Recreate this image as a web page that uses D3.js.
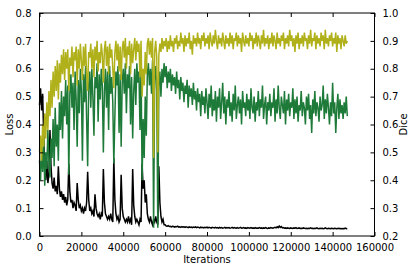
<!DOCTYPE html>
<html>
<head>
<meta charset="utf-8">
<script src="https://cdn.jsdelivr.net/npm/d3@7"></script>
<style>
  body { margin: 0; background: #fff; }
  svg { display: block; }
  text { font-family: "DejaVu Sans", sans-serif; font-size: 10px; fill: #000; }
  .series { fill: none; stroke-width: 1.5; stroke-linejoin: miter; }
</style>
</head>
<body>
<svg id="chart"></svg>
<script>
// one sample every 500 iterations, 0..147000
const iterStep = 500;

// training loss (left axis)
const lossValues = [
  0.47, 0.53, 0.45, 0.51, 0.36, 0.24, 0.20, 0.27, 0.19, 0.22,
  0.38, 0.25, 0.19, 0.17, 0.21, 0.16, 0.18, 0.15, 0.25, 0.17,
  0.14, 0.16, 0.13, 0.15, 0.12, 0.14, 0.11, 0.13, 0.26, 0.16,
  0.12, 0.13, 0.10, 0.12, 0.11, 0.09, 0.19, 0.13, 0.10, 0.11,
  0.09, 0.10, 0.08, 0.10, 0.09, 0.12, 0.23, 0.13, 0.09, 0.10,
  0.08, 0.09, 0.07, 0.15, 0.10, 0.08, 0.07, 0.08, 0.06, 0.08,
  0.07, 0.24, 0.12, 0.08, 0.07, 0.06, 0.07, 0.06, 0.08, 0.06,
  0.05, 0.28, 0.13, 0.08, 0.06, 0.07, 0.05, 0.06, 0.22, 0.10,
  0.07, 0.06, 0.05, 0.06, 0.05, 0.07, 0.05, 0.06, 0.04, 0.24,
  0.11, 0.07, 0.05, 0.06, 0.05, 0.04, 0.06, 0.05, 0.26, 0.17,
  0.20, 0.12, 0.15, 0.08, 0.06, 0.05, 0.07, 0.05, 0.04, 0.06,
  0.05, 0.07, 0.05, 0.04, 0.25, 0.12, 0.07, 0.05, 0.06, 0.04,
  0.040, 0.036, 0.035, 0.037, 0.034, 0.035, 0.033, 0.035, 0.034, 0.032,
  0.034, 0.033, 0.035, 0.032, 0.033, 0.031, 0.034, 0.032, 0.033, 0.031,
  0.033, 0.032, 0.030, 0.033, 0.031, 0.032, 0.030, 0.032, 0.031, 0.033,
  0.030, 0.032, 0.031, 0.029, 0.032, 0.030, 0.031, 0.029, 0.031, 0.030,
  0.032, 0.029, 0.031, 0.030, 0.028, 0.031, 0.030, 0.029, 0.031, 0.029,
  0.030, 0.028, 0.031, 0.029, 0.030, 0.028, 0.029, 0.031, 0.028, 0.030,
  0.029, 0.030, 0.028, 0.029, 0.031, 0.028, 0.030, 0.029, 0.028, 0.030,
  0.028, 0.029, 0.031, 0.028, 0.029, 0.030, 0.028, 0.029, 0.027, 0.030,
  0.029, 0.028, 0.030, 0.028, 0.029, 0.027, 0.030, 0.028, 0.029, 0.028,
  0.030, 0.028, 0.029, 0.027, 0.029, 0.028, 0.030, 0.028, 0.027, 0.029,
  0.028, 0.030, 0.029, 0.028, 0.030, 0.031, 0.029, 0.033, 0.030, 0.036,
  0.031, 0.034, 0.029, 0.030, 0.028, 0.029, 0.027, 0.029, 0.028, 0.027,
  0.029, 0.028, 0.027, 0.029, 0.028, 0.030, 0.027, 0.028, 0.029, 0.027,
  0.028, 0.027, 0.029, 0.028, 0.027, 0.028, 0.026, 0.028, 0.027, 0.029,
  0.027, 0.028, 0.026, 0.028, 0.027, 0.029, 0.027, 0.026, 0.028, 0.027,
  0.028, 0.026, 0.027, 0.029, 0.027, 0.026, 0.028, 0.027, 0.026, 0.028,
  0.027, 0.026, 0.028, 0.027, 0.026, 0.027, 0.028, 0.026, 0.027, 0.026,
  0.027, 0.026, 0.028, 0.026, 0.027
];

// dice, dark green (right axis)
const diceGreen = [
  0.47, 0.40, 0.52, 0.43, 0.56, 0.38, 0.50, 0.44, 0.58, 0.47,
  0.41, 0.55, 0.48, 0.62, 0.45, 0.66, 0.52, 0.60, 0.47, 0.68,
  0.58, 0.72, 0.55, 0.70, 0.63, 0.76, 0.60, 0.74, 0.42, 0.71,
  0.78, 0.66, 0.75, 0.58, 0.79, 0.69, 0.52, 0.76, 0.64, 0.80,
  0.72, 0.47, 0.78, 0.68, 0.81, 0.62, 0.45, 0.74, 0.79, 0.66,
  0.80, 0.70, 0.56, 0.77, 0.73, 0.82, 0.61, 0.78, 0.69, 0.80,
  0.74, 0.50, 0.72, 0.80, 0.66, 0.79, 0.58, 0.81, 0.71, 0.77,
  0.68, 0.46, 0.63, 0.79, 0.74, 0.81, 0.57, 0.78, 0.52, 0.75,
  0.80, 0.71, 0.82, 0.64, 0.78, 0.73, 0.81, 0.60, 0.77, 0.55,
  0.72, 0.80, 0.67, 0.82, 0.75, 0.79, 0.58, 0.81, 0.40, 0.62,
  0.48, 0.70, 0.56, 0.78, 0.82, 0.74, 0.80, 0.71, 0.83, 0.23,
  0.76, 0.81, 0.72, 0.23, 0.74, 0.79, 0.70, 0.80, 0.75, 0.82,
  0.77, 0.81, 0.73, 0.79, 0.75, 0.80, 0.72, 0.78, 0.74, 0.77,
  0.71, 0.79, 0.73, 0.76, 0.69, 0.77, 0.72, 0.75, 0.68, 0.74,
  0.71, 0.76, 0.66, 0.74, 0.70, 0.73, 0.67, 0.75, 0.69, 0.72,
  0.65, 0.73, 0.68, 0.71, 0.63, 0.72, 0.67, 0.70, 0.64, 0.73,
  0.68, 0.62, 0.71, 0.66, 0.74, 0.63, 0.69, 0.65, 0.72, 0.61,
  0.70, 0.66, 0.73, 0.62, 0.68, 0.75, 0.64, 0.70, 0.60, 0.69,
  0.66, 0.72, 0.63, 0.68, 0.61, 0.71, 0.65, 0.74, 0.62, 0.67,
  0.70, 0.64, 0.69, 0.60, 0.72, 0.66, 0.68, 0.63, 0.71, 0.65,
  0.69, 0.62, 0.73, 0.66, 0.64, 0.70, 0.61, 0.68, 0.65, 0.72,
  0.63, 0.69, 0.66, 0.74, 0.62, 0.67, 0.70, 0.60, 0.68, 0.65,
  0.71, 0.63, 0.68, 0.66, 0.73, 0.61, 0.69, 0.64, 0.74, 0.66,
  0.62, 0.70, 0.67, 0.64, 0.72, 0.60, 0.69, 0.65, 0.71, 0.63,
  0.68, 0.66, 0.73, 0.62, 0.69, 0.64, 0.70, 0.61, 0.67, 0.65,
  0.72, 0.63, 0.68, 0.66, 0.60, 0.70, 0.65, 0.71, 0.62, 0.67,
  0.57, 0.69, 0.64, 0.72, 0.63, 0.68, 0.66, 0.61, 0.70, 0.65,
  0.67, 0.74, 0.62, 0.69, 0.64, 0.71, 0.66, 0.60, 0.68, 0.63,
  0.75, 0.64, 0.68, 0.57, 0.66, 0.71, 0.62, 0.69, 0.64, 0.67,
  0.62, 0.68, 0.64, 0.70, 0.63
];

// dice, olive (right axis)
const diceOlive = [
  0.50, 0.56, 0.47, 0.60, 0.52, 0.64, 0.55, 0.68, 0.58, 0.72,
  0.63, 0.76, 0.66, 0.79, 0.70, 0.81, 0.72, 0.83, 0.69, 0.82,
  0.75, 0.85, 0.78, 0.87, 0.76, 0.86, 0.80, 0.87, 0.72, 0.84,
  0.81, 0.88, 0.77, 0.86, 0.83, 0.88, 0.74, 0.87, 0.80, 0.89,
  0.83, 0.76, 0.88, 0.81, 0.89, 0.78, 0.72, 0.86, 0.84, 0.89,
  0.80, 0.87, 0.77, 0.88, 0.83, 0.90, 0.79, 0.86, 0.82, 0.89,
  0.85, 0.75, 0.87, 0.90, 0.81, 0.88, 0.78, 0.89, 0.84, 0.87,
  0.80, 0.73, 0.86, 0.90, 0.83, 0.89, 0.79, 0.88, 0.76, 0.87,
  0.90, 0.84, 0.91, 0.80, 0.88, 0.85, 0.90, 0.78, 0.89, 0.82,
  0.87, 0.91, 0.83, 0.90, 0.86, 0.89, 0.77, 0.90, 0.70, 0.80,
  0.74, 0.86, 0.78, 0.89, 0.91, 0.85, 0.90, 0.84, 0.91, 0.48,
  0.86, 0.90, 0.84, 0.50, 0.85, 0.89, 0.86, 0.91, 0.87, 0.90,
  0.88, 0.91, 0.86, 0.90, 0.87, 0.92, 0.88, 0.90, 0.86, 0.91,
  0.89, 0.92, 0.87, 0.90, 0.88, 0.93, 0.89, 0.91, 0.86, 0.92,
  0.88, 0.91, 0.89, 0.93, 0.87, 0.90, 0.85, 0.92, 0.89, 0.91,
  0.88, 0.93, 0.89, 0.91, 0.87, 0.92, 0.90, 0.93, 0.88, 0.91,
  0.89, 0.92, 0.87, 0.93, 0.90, 0.88, 0.92, 0.89, 0.94, 0.90,
  0.87, 0.92, 0.89, 0.91, 0.88, 0.93, 0.90, 0.87, 0.92, 0.89,
  0.91, 0.88, 0.93, 0.89, 0.92, 0.87, 0.91, 0.90, 0.93, 0.88,
  0.92, 0.89, 0.91, 0.86, 0.93, 0.90, 0.88, 0.92, 0.89, 0.91,
  0.88, 0.93, 0.90, 0.92, 0.87, 0.91, 0.89, 0.93, 0.88, 0.92,
  0.90, 0.87, 0.92, 0.89, 0.94, 0.88, 0.91, 0.89, 0.92, 0.87,
  0.91, 0.89, 0.93, 0.88, 0.92, 0.90, 0.87, 0.93, 0.89, 0.91,
  0.88, 0.92, 0.90, 0.93, 0.87, 0.91, 0.89, 0.92, 0.88, 0.94,
  0.90, 0.92, 0.88, 0.91, 0.86, 0.92, 0.89, 0.93, 0.87, 0.91,
  0.89, 0.92, 0.88, 0.93, 0.90, 0.91, 0.87, 0.92, 0.89, 0.94,
  0.88, 0.91, 0.90, 0.93, 0.87, 0.92, 0.89, 0.91, 0.88, 0.93,
  0.90, 0.92, 0.87, 0.94, 0.89, 0.91, 0.88, 0.92, 0.90, 0.93,
  0.88, 0.91, 0.89, 0.93, 0.86, 0.92, 0.89, 0.91, 0.87, 0.92,
  0.90, 0.88, 0.92, 0.89, 0.90
];

const xTicks = [0, 20000, 40000, 60000, 80000, 100000, 120000, 140000, 160000];
const lossTicks = [0.0, 0.1, 0.2, 0.3, 0.4, 0.5, 0.6, 0.7, 0.8];
const diceTicks = [0.2, 0.3, 0.4, 0.5, 0.6, 0.7, 0.8, 0.9, 1.0];

const W = 414, H = 269;
const margin = {top: 13, right: 39.5, bottom: 33, left: 39.5};
const width = W - margin.left - margin.right;
const height = H - margin.top - margin.bottom;

const svg = d3.select('#chart').attr('width', W).attr('height', H);
const g = svg.append('g').attr('transform', `translate(${margin.left},${margin.top})`);

const x = d3.scaleLinear().domain([0, 160000]).range([0, width]);
const yLoss = d3.scaleLinear().domain([0, 0.8]).range([height, 0]);
const yDice = d3.scaleLinear().domain([0.2, 1.0]).range([height, 0]);

const toPoints = (vals) => vals.map((v, i) => ({it: i * iterStep, v: v}));

const plot = g.append('g');
const drawLine = (vals, yScale, color) => {
  const line = d3.line().x(d => x(d.it)).y(d => yScale(d.v));
  plot.append('path').datum(toPoints(vals)).attr('class', 'series')
      .attr('stroke', color).attr('d', line);
}
drawLine(lossValues, yLoss, '#000000');
drawLine(diceGreen, yDice, '#1e7a38');
drawLine(diceOlive, yDice, '#b0b01a');

// axes, ticks pointing inward like the classic matplotlib style
const fmt = d3.format('.1f');
const bottomAxis = d3.axisBottom(x).tickValues(xTicks).tickSize(-4).tickPadding(8).tickFormat(d3.format('d'));
const topAxis = d3.axisTop(x).tickValues(xTicks).tickSize(-4).tickFormat('');
const leftAxis = d3.axisLeft(yLoss).tickValues(lossTicks).tickSize(-4).tickPadding(8).tickFormat(fmt);
const rightAxis = d3.axisRight(yDice).tickValues(diceTicks).tickSize(-4).tickPadding(8).tickFormat(fmt);

const styleAxis = (sel) => {
  sel.attr('font-family', null).attr('font-size', null);
  sel.select('.domain').remove();
  sel.selectAll('.tick line').attr('stroke', '#000').attr('stroke-width', 1);
  sel.selectAll('.tick text').attr('fill', '#000');
}
g.append('g').attr('transform', `translate(0,${height})`).call(bottomAxis).call(styleAxis);
g.append('g').call(topAxis).call(styleAxis);
g.append('g').call(leftAxis).call(styleAxis);
g.append('g').attr('transform', `translate(${width},0)`).call(rightAxis).call(styleAxis);

// frame
g.append('rect').attr('width', width).attr('height', height)
  .attr('fill', 'none').attr('stroke', '#000').attr('stroke-width', 1);

// axis titles
svg.append('text').attr('text-anchor', 'middle')
  .attr('x', margin.left + width / 2).attr('y', 263).text('Iterations');
svg.append('text').attr('text-anchor', 'middle')
  .attr('transform', `translate(12.5,${margin.top + height / 2}) rotate(-90)`).text('Loss');
svg.append('text').attr('text-anchor', 'middle')
  .attr('transform', `translate(407,${margin.top + height / 2}) rotate(-90)`).text('Dice');
</script>
</body>
</html>
